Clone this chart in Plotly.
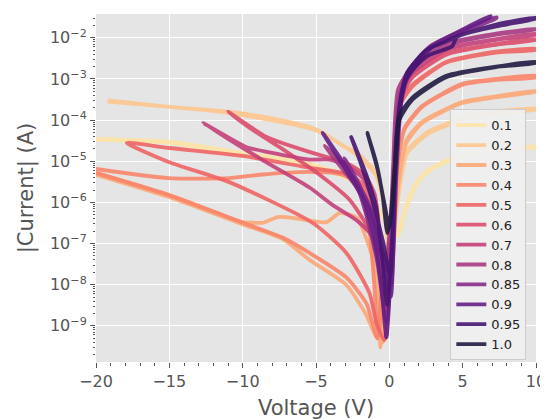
import plotly.graph_objects as go

labels = ["0.1", "0.2", "0.3", "0.4", "0.5", "0.6", "0.7", "0.8", "0.85", "0.9", "0.95", "1.0"]
colors = ["#fde4a6", "#fec68d", "#fca877", "#f9866a", "#f06566", "#dc4d6d", "#c4407a", "#a63a83",
          "#852b88", "#651f86", "#461671", "#211b44"]

v_01 = [-20, -15, -10, -6, -3, -1.5, -0.5, 0.3, 0.8, 1.2, 1.8, 2.5, 3.9, 6.1, 10,
        10, 6.1, 3.9, 2.5, 1.8, 1.2, 0.6, -0.2, -1.5, -3, -6, -10, -15, -20]
i_01 = [3.3e-5, 2.8e-5, 1.4e-5, 8.9e-6, 4.0e-6, 1.6e-6, 5.0e-7, 1.3e-7, 3.2e-7, 7.9e-7, 2.5e-6, 5.2e-6, 9.8e-6, 1.6e-5, 2.2e-5,
        2.3e-5, 1.7e-5, 1.05e-5, 5.6e-6, 2.8e-6, 1.0e-6, 1.6e-7, 3.2e-7, 1.8e-6, 4.5e-6, 1.0e-5, 1.6e-5, 3.0e-5, 3.5e-5]

v_02 = [-19.2, -15, -11, -8, -5, -3, -2.2, -0.9, -0.5, -0.1, 0.1, 0.5, 0.8, 1.22, 2.72, 4.97, 7.28, 10,
        10, 7.28, 4.97, 2.72, 1.22, 0.8, 0.4, 0, -0.4, -0.9, -2.2, -5, -11, -19.2]
i_02 = [3.0e-4, 2.1e-4, 1.6e-4, 1.1e-4, 6.0e-5, 2.2e-5, 1.6e-5, 5.2e-6, 1.6e-6, 1.0e-7, 2.5e-8, 6.3e-7, 4.0e-6, 1.6e-5, 4.9e-5, 1.0e-4, 1.5e-4, 1.8e-4,
        1.9e-4, 1.6e-4, 1.1e-4, 5.4e-5, 1.8e-5, 5.0e-6, 3.2e-7, 6.3e-8, 1.0e-6, 4.5e-6, 1.4e-5, 5.6e-5, 1.5e-4, 2.8e-4]

v_03 = [-20, -15, -10, -9.3, -8.6, -7.6, -6.6, -5.2, -4.3, -3.4, -2.9, -2.2, -1.36, -0.88, -0.7, -0.61,
        -0.3, 0.2, 0.7, 1.16, 2.24, 4.97, 7.28, 10,
        10, 7.28, 4.97, 2.24, 1.16, 0.6, 0.1, -0.45,
        -0.95, -1.56, -2.93, -5.44, -7.28, -10.07, -15.03, -20]
i_03 = [5.2e-6, 1.5e-6, 3.3e-7, 3.2e-7, 3.2e-7, 4.4e-7, 4.2e-7, 3.5e-7, 3.3e-7, 5.5e-7, 5.2e-7, 4.2e-7, 8.1e-8, 1.5e-8, 1.6e-9, 3.0e-10,
        1.0e-8, 3.2e-7, 5.0e-6, 2.8e-5, 8.5e-5, 2.6e-4, 3.6e-4, 4.9e-4,
        5.1e-4, 3.8e-4, 2.75e-4, 9.1e-5, 3.2e-5, 2.5e-6, 3.2e-8, 4.0e-10,
        5.9e-10, 1.8e-9, 9.8e-9, 4.0e-8, 1.3e-7, 3.0e-7, 1.35e-6, 4.7e-6]

v_04 = [-20, -15.03, -10.9, -8.84, -5.44, -3.2, -2.04, -1.36, -1.0, -0.82,
        -0.5, 0.1, 0.6, 1.02, 2.24, 4.97, 7.28, 10,
        10, 7.28, 4.97, 2.24, 1.02, 0.5, 0, -0.5,
        -0.82, -1.16, -1.56, -2.93, -5.44, -7.28, -10.07, -15.03, -20]
i_04 = [6.5e-6, 3.9e-6, 3.9e-6, 4.7e-6, 5.5e-6, 4.7e-6, 2.6e-6, 2.1e-7, 7.4e-9, 5.0e-10,
        1.0e-8, 2.5e-7, 1.0e-5, 5.8e-5, 2.1e-4, 7.2e-4, 9.5e-4, 1.1e-3,
        1.2e-3, 1.0e-3, 7.6e-4, 2.2e-4, 6.3e-5, 5.0e-6, 1.0e-7, 2.5e-9,
        5.0e-10, 1.2e-9, 3.5e-9, 1.5e-8, 5.9e-8, 1.4e-7, 3.3e-7, 1.5e-6, 5.2e-6]

v_05 = [-17.9, -15, -10, -5.4, -3, -1.8, -1.0, -0.5, -0.2, 0.2, 0.45, 0.68, 1.56, 3.88, 7.28, 10,
        10, 7.28, 3.88, 1.56, 0.68, 0.4, 0.1, -0.34, -0.88, -1.36, -2.93, -5.24, -11, -15, -17.9]
i_05 = [2.8e-5, 2.1e-5, 1.35e-5, 6.9e-6, 5.0e-6, 2.8e-6, 6.3e-7, 3.2e-8, 2.0e-9, 1.0e-7, 1.0e-5, 2.1e-4, 6.5e-4, 2.5e-3, 4.4e-3, 5.1e-3,
        5.4e-3, 4.6e-3, 2.6e-3, 7.1e-4, 2.4e-4, 6.3e-6, 6.3e-8, 4.5e-10, 1.2e-9, 6.3e-9, 5.9e-8, 3.2e-7, 3.2e-6, 9.5e-6, 2.8e-5]

v_06 = [-11, -8.37, -5.24, -2.93, -1.7, -1.0, -0.5, -0.27, 0.1, 0.4, 0.68, 1.56, 3.88, 7.28, 10,
        10, 7.28, 3.88, 1.56, 0.68, 0.3, -0.1, -0.5, -1.36, -2.7, -4.76, -7.48, -9.52, -11]
i_06 = [1.6e-4, 3.9e-5, 1.6e-5, 9.1e-6, 4.7e-6, 1.6e-6, 4.0e-8, 2.5e-9, 1.6e-7, 1.6e-5, 2.75e-4, 1.07e-3, 3.9e-3, 6.8e-3, 8.9e-3,
        9.3e-3, 7.1e-3, 4.2e-3, 1.2e-3, 3.2e-4, 3.2e-6, 1.6e-8, 2.5e-8, 2.1e-7, 1.15e-6, 4.7e-6, 2.2e-5, 6.5e-5, 1.6e-4]

v_07 = [-12.7, -9.73, -8.16, -5.44, -4.1, -2.9, -1.7, -0.82, -0.34, 0.1, 0.4, 0.68, 1.56, 3.88, 7.28, 10,
        10, 7.28, 3.88, 1.56, 0.68, 0.3, -0.1, -1.22, -2.24, -3.88, -5.44, -8.64, -12.7]
i_07 = [8.5e-5, 2.2e-5, 1.65e-5, 1.1e-5, 1.1e-5, 7.9e-6, 3.5e-6, 3.7e-7, 7.4e-9, 3.2e-7, 3.2e-5, 3.6e-4, 1.4e-3, 5.1e-3, 8.9e-3, 1.2e-2,
        1.25e-2, 9.3e-3, 5.4e-3, 1.6e-3, 4.0e-4, 6.3e-6, 2.5e-8, 1.6e-7, 3.7e-7, 8.7e-7, 2.3e-6, 1.07e-5, 8.5e-5]

v_08 = [-4.4, -3.6, -2.6, -1.6, -0.9, -0.4, 0.1, 0.35, 0.6, 1.56, 3.88, 7.28, 10,
        10, 7.28, 3.88, 1.56, 0.6, 0.25, -0.1, -0.6, -1.3, -2.3, -3.4, -4.4]
i_08 = [2.4e-5, 1.26e-5, 5.0e-6, 1.26e-6, 1.6e-7, 5.0e-9, 5.0e-7, 3.2e-5, 5.0e-4, 1.8e-3, 6.6e-3, 1.2e-2, 1.6e-2,
        1.65e-2, 1.26e-2, 7.1e-3, 2.0e-3, 5.6e-4, 6.3e-6, 1.6e-8, 6.3e-8, 5.0e-7, 2.5e-6, 7.9e-6, 2.4e-5]

v_085 = [-3.05, -2.3, -1.5, -0.8, -0.2, 0.2, 0.4, 0.6, 0.85, 1.3, 2.8, 5, 7.3,
         7.3, 5, 2.8, 1.3, 0.85, 0.5, 0.1, -0.4, -1.2, -2.0, -3.05]
i_085 = [1.2e-5, 3.2e-6, 4.0e-7, 3.2e-8, 1.26e-9, 6.3e-8, 3.2e-6, 6.3e-5, 5.0e-4, 1.6e-3, 6.3e-3, 1.5e-2, 3.2e-2,
         3.0e-2, 1.4e-2, 5.6e-3, 1.4e-3, 4.0e-4, 6.3e-6, 1.0e-8, 5.0e-8, 6.3e-7, 2.5e-6, 1.2e-5]

v_09 = [-4.55, -3.2, -1.95, -1.0, -0.5, -0.2, 0.2, 0.45, 0.7, 1.2, 2.8, 5, 6.9,
        6.9, 5, 2.8, 1.2, 0.7, 0.4, 0.1, -0.4, -1.3, -2.8, -4.55]
i_09 = [4.9e-5, 1.0e-5, 1.8e-6, 1.26e-7, 6.3e-9, 5.2e-10, 1.0e-7, 1.07e-5, 1.8e-4, 1.1e-3, 6.0e-3, 1.6e-2, 3.4e-2,
        3.2e-2, 1.5e-2, 5.4e-3, 1.0e-3, 1.4e-4, 3.2e-6, 5.0e-9, 3.2e-8, 6.3e-7, 5.0e-6, 4.9e-5]

v_095 = [-2.6, -1.6, -0.9, -0.5, -0.15, 0.2, 0.45, 0.75, 1.2, 2.5, 3.9, 4.97, 7.28, 10,
         10, 7.28, 4.6, 4.3, 2.5, 1.2, 0.75, 0.4, 0.05, -0.4, -1.2, -2.0, -2.6]
i_095 = [3.9e-5, 5.0e-6, 7.9e-7, 5.0e-8, 3.2e-9, 1.6e-7, 2.5e-5, 3.2e-4, 1.4e-3, 5.0e-3, 8.3e-3, 1.2e-2, 2.1e-2, 3.1e-2,
         2.95e-2, 1.9e-2, 1.05e-2, 6.3e-3, 3.5e-3, 1.1e-3, 2.5e-4, 6.3e-6, 1.6e-8, 1.0e-7, 1.26e-6, 1.0e-5, 3.9e-5]

v_10 = [-1.5, -0.88, -0.45, -0.13, 0.2, 0.45, 0.68, 1.56, 3.88, 7.28, 10,
        10, 7.28, 3.88, 1.56, 0.68, 0.35, 0.0, -0.35, -0.8, -1.5]
i_10 = [4.9e-5, 8.9e-6, 1.4e-6, 1.8e-7, 7.9e-7, 1.26e-5, 1.0e-4, 3.1e-4, 1.1e-3, 1.95e-3, 2.45e-3,
        2.6e-3, 2.0e-3, 1.2e-3, 3.5e-4, 1.26e-4, 6.3e-6, 2.5e-7, 1.0e-6, 6.3e-6, 4.9e-5]

voltages = [v_01, v_02, v_03, v_04, v_05, v_06, v_07, v_08, v_085, v_09, v_095, v_10]
currents = [i_01, i_02, i_03, i_04, i_05, i_06, i_07, i_08, i_085, i_09, i_095, i_10]

x_ticks = [-20, -15, -10, -5, 0, 5, 10]
x_ticktext = ["\u221220", "\u221215", "\u221210", "\u22125", "0", "5", "10"]
y_exps = [-9, -8, -7, -6, -5, -4, -3, -2]

fig = go.Figure()
for lab, col, v, cur in zip(labels, colors, voltages, currents):
    fig.add_trace(go.Scatter(x=v, y=cur, mode="lines", name=lab,
                             line=dict(color=col, width=3.8, shape="spline", smoothing=0.6),
                             opacity=0.9))

y_minor = [k * 10.0 ** e for e in range(-10, -1) for k in range(2, 10)]

fig.update_layout(
    width=540, height=412,
    margin=dict(l=88, r=12, t=6, b=58),
    paper_bgcolor="white", plot_bgcolor="#e5e5e5",
    font=dict(family="DejaVu Sans", color="#555555"),
    showlegend=True,
    legend=dict(x=0.978, xanchor="right", y=0.005, yanchor="bottom",
                bgcolor="rgba(240,240,240,0.92)", bordercolor="#cccccc", borderwidth=1,
                font=dict(size=13, color="#222222"), itemwidth=30),
    xaxis=dict(range=[-20, 10], tickvals=x_ticks, ticktext=x_ticktext, automargin=False,
               showgrid=True, gridcolor="white", gridwidth=1.3, zeroline=False, showline=False,
               ticks="outside", ticklen=5, tickcolor="#555555", tickfont=dict(size=16),
               minor=dict(dtick=1, ticks="outside", ticklen=2.5, tickcolor="#555555", showgrid=False),
               title=dict(text="Voltage (V)", font=dict(size=21), standoff=11)),
    yaxis=dict(type="log", range=[-9.88, -1.42], automargin=False,
               tickvals=[10.0 ** e for e in y_exps],
               ticktext=["10<sup>\u2212%d</sup>" % (-e) for e in y_exps],
               showgrid=True, gridcolor="white", gridwidth=1.3, zeroline=False, showline=False,
               ticks="outside", ticklen=5, tickcolor="#555555", tickfont=dict(size=16),
               minor=dict(tickvals=y_minor, ticks="outside", ticklen=2.5, tickcolor="#555555", showgrid=False),
               title=dict(text="|Current| (A)", font=dict(size=21), standoff=10)),
)

fig.write_html("out.html")
